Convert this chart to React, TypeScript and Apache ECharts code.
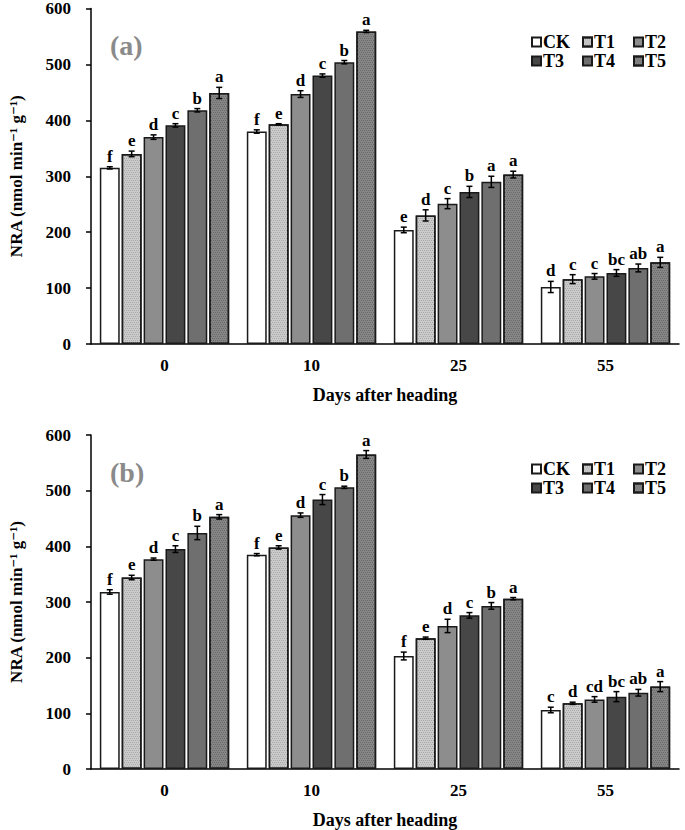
import React, { useEffect, useRef } from "react";
import * as echarts from "echarts";

const categories = ["0", "10", "25", "55"];
const treatments = ["CK", "T1", "T2", "T3", "T4", "T5"];

// panel (a): rows = treatments, columns = days after heading
const valuesA = [
  [315, 380, 204, 102],
  [340, 393, 230, 116],
  [370, 447, 251, 121],
  [391, 480, 272, 127],
  [418, 504, 290, 136],
  [449, 559, 303, 146],
];
const errorsA = [
  [2, 3, 5, 10],
  [5, 1, 10, 8],
  [4, 6, 9, 5],
  [3, 3, 10, 6],
  [3, 3, 10, 7],
  [10, 2, 6, 9],
];
const lettersA = [
  ["f", "f", "e", "d"],
  ["e", "e", "d", "c"],
  ["d", "d", "c", "c"],
  ["c", "c", "b", "bc"],
  ["b", "b", "a", "ab"],
  ["a", "a", "a", "a"],
];

// panel (b)
const valuesB = [
  [318, 385, 203, 106],
  [344, 398, 235, 118],
  [377, 456, 257, 125],
  [395, 484, 276, 130],
  [424, 506, 293, 137],
  [453, 565, 306, 148],
];
const errorsB = [
  [4, 2, 7, 5],
  [4, 3, 2, 2],
  [2, 4, 12, 5],
  [6, 9, 5, 9],
  [12, 2, 6, 6],
  [4, 7, 2, 9],
];
const lettersB = [
  ["f", "f", "f", "c"],
  ["e", "e", "e", "d"],
  ["d", "d", "d", "cd"],
  ["c", "c", "c", "bc"],
  ["b", "b", "b", "ab"],
  ["a", "a", "a", "a"],
];

const yTicks = [0, 100, 200, 300, 400, 500, 600];
const panelLabels = ["(a)", "(b)"];

const FONT = '"Liberation Serif", "DejaVu Serif", serif';
const fills = ["#ffffff", "#cbcbcb", "#8d8d8d", "#474747", "#6f6f6f", "#868686"];
const decals: any[] = [
  undefined,
  { symbol: "rect", symbolSize: 1, color: "#a9a9a9", dashArrayX: [[1, 1], [0, 1, 1, 0]], dashArrayY: [1, 1] },
  undefined,
  undefined,
  undefined,
  { symbol: "rect", symbolSize: 1, color: "#6a6a6a", dashArrayX: [[1, 1], [0, 1, 1, 0]], dashArrayY: [1, 1] },
];

const CAT_GAP = 0.12;
const BAR_GAP = 0.1;

const App = () => {
  const chartRef = useRef<HTMLDivElement>(null);

  useEffect(() => {
    document.body.style.margin = "0";
    if (!chartRef.current) return;
    const chart = echarts.init(chartRef.current, undefined, { renderer: "svg" });

    const panels = [
      { values: valuesA, errors: errorsA, letters: lettersA, top: 8 },
      { values: valuesB, errors: errorsB, letters: lettersB, top: 435 },
    ];
    const legendX = [531, 582, 633];

    const series: any[] = [];
    panels.forEach((p, pi) => {
      treatments.forEach((name, t) => {
        series.push({
          type: "bar",
          name,
          xAxisIndex: pi,
          yAxisIndex: pi,
          data: p.values[t],
          barGap: BAR_GAP * 100 + "%",
          barCategoryGap: CAT_GAP * 100 + "%",
          itemStyle: {
            color: fills[t],
            borderColor: "#1a1a1a",
            borderWidth: 1.5,
            decal: decals[t],
          },
        });
      });
      const errData: number[][] = [];
      treatments.forEach((_, t) => {
        categories.forEach((_, c) => {
          errData.push([c, p.values[t][c], p.errors[t][c], t]);
        });
      });
      series.push({
        type: "custom",
        xAxisIndex: pi,
        yAxisIndex: pi,
        clip: false,
        z: 5,
        data: errData,
        renderItem: (params: any, api: any) => {
          const c = api.value(0);
          const v = api.value(1);
          const e = api.value(2);
          const t = api.value(3);
          const band = api.size([1, 0])[0];
          const usable = band * (1 - CAT_GAP);
          const w = usable / (treatments.length + (treatments.length - 1) * BAR_GAP);
          const off = -usable / 2 + t * w * (1 + BAR_GAP) + w / 2;
          const hi = api.coord([c, v + e]);
          const lo = api.coord([c, v - e]);
          const x = hi[0] + off;
          const cap = 3;
          const stroke = { stroke: "#000", lineWidth: 1.5 };
          return {
            type: "group",
            children: [
              { type: "line", shape: { x1: x, y1: hi[1], x2: x, y2: lo[1] }, style: stroke },
              { type: "line", shape: { x1: x - cap, y1: hi[1], x2: x + cap, y2: hi[1] }, style: stroke },
              { type: "line", shape: { x1: x - cap, y1: lo[1], x2: x + cap, y2: lo[1] }, style: stroke },
              {
                type: "text",
                style: {
                  text: p.letters[t][c],
                  x,
                  y: hi[1] - 2,
                  align: "center",
                  verticalAlign: "bottom",
                  fontFamily: FONT,
                  fontWeight: "bold",
                  fontSize: 17,
                  fill: "#000",
                },
              },
            ],
          };
        },
      });
    });

    const legends: any[] = [];
    panels.forEach((p, pi) => {
      treatments.forEach((name, t) => {
        legends.push({
          data: [name],
          left: legendX[t % 3],
          top: p.top + 25 + Math.floor(t / 3) * 19,
          icon: "rect",
          itemWidth: 9,
          itemHeight: 9,
          padding: 0,
          itemGap: 0,
          selectedMode: false,
          textStyle: {
            fontFamily: FONT,
            fontWeight: "bold",
            fontSize: 18,
            color: "#000",
            padding: [0, 0, 0, -3],
          },
        });
      });
    });

    const axisLine = { lineStyle: { color: "#000", width: 1.5 } };
    const labelStyle = { color: "#000", fontFamily: FONT, fontWeight: "bold", fontSize: 17 };

    const options = {
      animation: false,
      backgroundColor: "#fff",
      grid: panels.map((p) => ({ left: 88, right: 6, top: p.top, height: 336 })),
      legend: legends,
      xAxis: panels.map((_, pi) => ({
        type: "category",
        gridIndex: pi,
        data: categories,
        axisTick: { show: false },
        axisLine,
        axisLabel: { ...labelStyle, margin: 13 },
        name: "Days after heading",
        nameLocation: "middle",
        nameGap: 42,
        nameTextStyle: { ...labelStyle, fontSize: 18 },
      })),
      yAxis: panels.map((_, pi) => ({
        type: "value",
        gridIndex: pi,
        min: yTicks[0],
        max: yTicks[yTicks.length - 1],
        interval: yTicks[1] - yTicks[0],
        axisLine: { show: true, ...axisLine },
        axisTick: { show: true, length: 5, lineStyle: { color: "#000", width: 1.5 } },
        splitLine: { show: false },
        axisLabel: { ...labelStyle, margin: 20 },
        name: "NRA (nmol min⁻¹ g⁻¹)",
        nameLocation: "middle",
        nameGap: 66,
        nameTextStyle: { ...labelStyle, fontSize: 17 },
      })),
      graphic: panels.map((p, pi) => ({
        type: "text",
        left: 110,
        top: p.top + 23,
        style: {
          text: panelLabels[pi],
          fontFamily: FONT,
          fontWeight: "bold",
          fontSize: 28,
          fill: "#8a8a8a",
        },
      })),
      series,
    };

    chart.setOption(options);

    return () => {
      chart.dispose();
    };
  }, []);

  return <div ref={chartRef} style={{ width: "685px", height: "830px" }} />;
};

export default App;
